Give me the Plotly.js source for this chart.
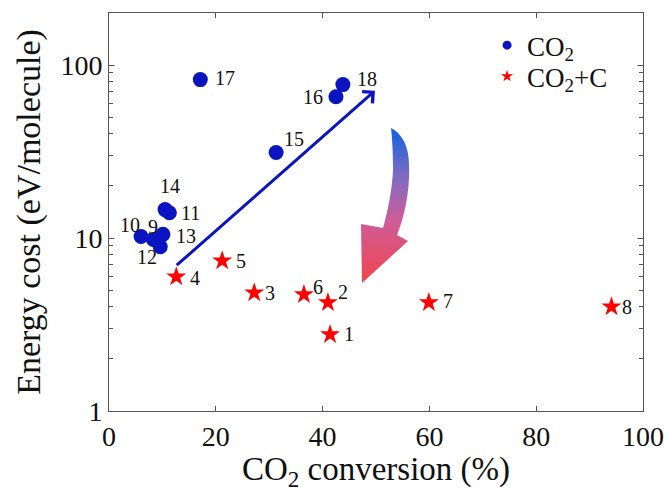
<!DOCTYPE html>
<html>
<head>
<meta charset="utf-8">
<script src="https://cdn.plot.ly/plotly-3.0.1.min.js"></script>
<style>html,body{margin:0;padding:0;background:#fff;}#chart{width:667px;height:492px;}</style>
</head>
<body>
<div id="chart"></div>
<script>
// CO2 series (points 9-18)
const co2Labels = ['9','10','11','12','13','14','15','16','17','18'];
const co2Conv   = [8.3, 6.0, 11.3, 9.6, 10.1, 10.5, 31.3, 42.5, 17.1, 43.8];
const co2Cost   = [9.8, 10.2, 14.0, 8.9, 10.5, 14.6, 31.2, 65.6, 82.4, 77.1];

// CO2 + C series (points 1-8)
const cLabels = ['1','2','3','4','5','6','7','8'];
const cConv   = [41.4, 41.0, 27.2, 12.6, 21.2, 36.5, 59.9, 94.1];
const cCost   = [2.77, 4.24, 4.83, 5.98, 7.4, 4.71, 4.24, 4.01];

// trend arrow (start, end)
const trendConv = [12.4, 49.8];
const trendCost = [6.84, 71.1];

const xTicks = [0, 20, 40, 60, 80, 100];
const yTicks = [1, 10, 100];

// label offsets in px (style only)
const co2Off = {'9':[0,13],'10':[-11,12],'11':[21,0],'12':[-13,-10],'13':[23,-2],'14':[5,24],'15':[18,14],'16':[-23,0],'17':[25,2],'18':[24,6]};
const cOff   = {'1':[19,0],'2':[15,10],'3':[16,0],'4':[19,-1],'5':[19,0],'6':[14,8],'7':[19,1],'8':[16,0]};

const BLUE = '#0a14c0';
const RED = '#ff0000';
const SERIF = 'Liberation Serif, DejaVu Serif, serif';

const traces = [
  {x: co2Conv, y: co2Cost, type: 'scatter', mode: 'markers', showlegend: false,
   marker: {color: BLUE, size: 15, symbol: 'circle'}},
  {x: cConv, y: cCost, type: 'scatter', mode: 'markers', showlegend: false,
   marker: {color: RED, size: 15, symbol: 'star'}},
  {x: [null], y: [null], type: 'scatter', mode: 'markers', name: 'CO<sub>2</sub>', legend: 'legend',
   marker: {color: BLUE, size: 9, symbol: 'circle'}},
  {x: [null], y: [null], type: 'scatter', mode: 'markers', name: 'CO<sub>2</sub>+C', legend: 'legend2',
   marker: {color: RED, size: 9, symbol: 'star'}}
];

const annotations = [];
function addLabels(labels, xs, ys, off) {
  labels.forEach((t, i) => {
    const o = off[t];
    annotations.push({x: xs[i], y: Math.log10(ys[i]), xref: 'x', yref: 'y', text: t,
      showarrow: false, xshift: o[0], yshift: o[1],
      font: {family: SERIF, size: 20, color: '#111'}});
  });
}
addLabels(co2Labels, co2Conv, co2Cost, co2Off);
addLabels(cLabels, cConv, cCost, cOff);

annotations.push({x: trendConv[1], y: Math.log10(trendCost[1]), ax: trendConv[0], ay: Math.log10(trendCost[0]),
  xref: 'x', yref: 'y', axref: 'x', ayref: 'y', text: '', showarrow: true,
  arrowhead: 4, arrowsize: 1, arrowwidth: 3, arrowcolor: BLUE});

const svg = '<svg xmlns="http://www.w3.org/2000/svg" viewBox="0 0 60 162" width="60" height="162">' +
  '<defs><linearGradient id="g" x1="0" y1="0" x2="0" y2="1">' +
  '<stop offset="0" stop-color="#1060e0"/><stop offset="0.3" stop-color="#7a6cc4"/>' +
  '<stop offset="0.6" stop-color="#cf5c98"/><stop offset="1" stop-color="#f2444c"/></linearGradient></defs>' +
  '<path d="M36,3 C46,8 54,20 54,40 C55,65 50,90 42,110 L53,116 L7,158 L6,99 L28,103 C33,85 37,65 38,45 C38,25 37,12 36,3 Z" fill="url(#g)"/></svg>';

const legendBase = {xanchor: 'left', yanchor: 'middle', bgcolor: 'rgba(0,0,0,0)',
  font: {family: SERIF, size: 27, color: '#111'}, itemwidth: 30};

const layout = {
  width: 667, height: 492,
  margin: {l: 109, r: 24, t: 13, b: 81},
  paper_bgcolor: '#fff', plot_bgcolor: '#fff',
  font: {family: SERIF, color: '#111'},
  xaxis: {
    range: [0, 100], tickvals: xTicks, ticktext: xTicks.map(String),
    ticks: 'inside', ticklen: 5, tickcolor: '#555', showline: true, linecolor: '#555', linewidth: 1,
    mirror: 'ticks', showgrid: false, zeroline: false,
    tickfont: {family: SERIF, size: 28, color: '#111'},
    title: {text: 'CO<sub>2</sub> conversion (%)', font: {family: SERIF, size: 33, color: '#111'}, standoff: 4}
  },
  yaxis: {
    type: 'log', range: [0, Math.log10(200)], tickvals: yTicks, ticktext: yTicks.map(String),
    ticks: 'inside', ticklen: 5, tickcolor: '#555', showline: true, linecolor: '#555', linewidth: 1,
    mirror: 'ticks', showgrid: false, zeroline: false,
    minor: {ticks: 'inside', ticklen: 4, tickcolor: '#555', dtick: 'D1', showgrid: false},
    tickfont: {family: SERIF, size: 28, color: '#111'},
    title: {text: 'Energy cost (eV/molecule)', font: {family: SERIF, size: 34, color: '#111'}, standoff: 9}
  },
  legend: Object.assign({x: 0.708, y: 0.918}, legendBase),
  legend2: Object.assign({x: 0.708, y: 0.84}, legendBase),
  annotations: annotations,
  images: [{source: 'data:image/svg+xml;charset=utf-8,' + encodeURIComponent(svg),
    xref: 'paper', yref: 'paper', x: 0.4607, y: 0.7186, sizex: 0.1124, sizey: 0.407,
    xanchor: 'left', yanchor: 'top', sizing: 'stretch', layer: 'above'}]
};

Plotly.newPlot('chart', traces, layout, {displayModeBar: false, staticPlot: true});
</script>
</body>
</html>
